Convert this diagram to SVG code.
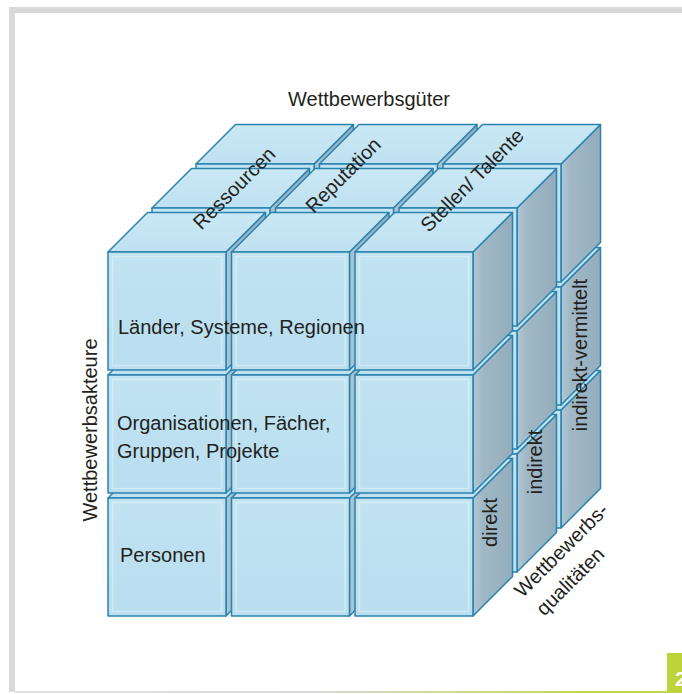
<svg xmlns="http://www.w3.org/2000/svg" width="682" height="694" viewBox="0 0 682 694">
  <style>
    .side{fill:url(#sideShade);stroke:#2a83ad;stroke-width:1.5;stroke-linejoin:round}
    .top{fill:url(#topShade);stroke:#2a83ad;stroke-width:1.5;stroke-linejoin:round}
    .front{fill:url(#frontShade);stroke:#2a83ad;stroke-width:1.5;stroke-linejoin:round}
    .glint{fill:none;stroke:#ffffff;stroke-opacity:.35;stroke-width:1.5}
    .lbl{font-family:"Liberation Sans",Arial,sans-serif;font-size:20px;fill:#231f20}
    .mid{text-anchor:middle}
    .frame{fill:#d9d9d9}
    .page{font-family:"Liberation Sans",Arial,sans-serif;font-size:21px;font-weight:bold;fill:#ffffff}
  </style>
  <defs>
    <linearGradient id="sideShade" x1="0" y1="0" x2="1" y2="0">
      <stop offset="0" stop-color="#b0c7d3"/>
      <stop offset="0.25" stop-color="#a0b8c6"/>
      <stop offset="1" stop-color="#94adbc"/>
    </linearGradient>
    <linearGradient id="frontShade" x1="0" y1="0" x2="0" y2="1">
      <stop offset="0" stop-color="#c1e3f2"/>
      <stop offset="1" stop-color="#b9deef"/>
    </linearGradient>
    <linearGradient id="topShade" x1="0" y1="1" x2="0" y2="0">
      <stop offset="0" stop-color="#bfe1f1"/>
      <stop offset="1" stop-color="#cae8f5"/>
    </linearGradient>
    <linearGradient id="baseLine" x1="15" y1="0" x2="682" y2="0" gradientUnits="userSpaceOnUse">
      <stop offset="0" stop-color="#e0e0e0"/>
      <stop offset="0.45" stop-color="#dadada"/>
      <stop offset="0.85" stop-color="#c3d84c"/>
    </linearGradient>
    <!-- one small cube: front face at origin, depth 39.5 receding up-right -->
    <g id="cube">
      <polygon class="side" points="118,0 157.5,-39.5 157.5,78.5 118,118"/>
      <polygon class="top" points="0,0 118,0 157.5,-39.5 39.5,-39.5"/>
      <rect class="front" x="0" y="0" width="118" height="118"/>
      <rect class="glint" x="4.5" y="4.5" width="109" height="109"/>
    </g>
  </defs>

  <rect width="682" height="694" fill="#ffffff"/>

  <!-- page frame -->
  <g id="frame">
    <rect class="frame" x="9" y="7" width="673" height="6"/>
    <rect class="frame" x="9" y="7" width="6" height="685"/>
    <rect x="15" y="691" width="667" height="2" fill="url(#baseLine)"/>
    <rect x="667" y="653" width="15" height="39" fill="#bcd33a"/>
    <text class="page" x="675" y="686">2</text>
  </g>

  <!-- 3x3x3 block of cubes, painted back layer first, bottom row first, left to right -->
  <g id="cubes">
    <g id="cube-back">
      <use href="#cube" id="c-2-2-0" x="196" y="410"/>
      <use href="#cube" id="c-2-2-1" x="319.5" y="410"/>
      <use href="#cube" id="c-2-2-2" x="443" y="410"/>
      <use href="#cube" id="c-2-1-0" x="196" y="287"/>
      <use href="#cube" id="c-2-1-1" x="319.5" y="287"/>
      <use href="#cube" id="c-2-1-2" x="443" y="287"/>
      <use href="#cube" id="c-2-0-0" x="196" y="164"/>
      <use href="#cube" id="c-2-0-1" x="319.5" y="164"/>
      <use href="#cube" id="c-2-0-2" x="443" y="164"/>
    </g>
    <g id="cube-middle">
      <use href="#cube" id="c-1-2-0" x="152" y="454"/>
      <use href="#cube" id="c-1-2-1" x="275.5" y="454"/>
      <use href="#cube" id="c-1-2-2" x="399" y="454"/>
      <use href="#cube" id="c-1-1-0" x="152" y="331"/>
      <use href="#cube" id="c-1-1-1" x="275.5" y="331"/>
      <use href="#cube" id="c-1-1-2" x="399" y="331"/>
      <use href="#cube" id="c-1-0-0" x="152" y="208"/>
      <use href="#cube" id="c-1-0-1" x="275.5" y="208"/>
      <use href="#cube" id="c-1-0-2" x="399" y="208"/>
    </g>
    <g id="cube-front">
      <use href="#cube" id="c-0-2-0" x="108" y="498"/>
      <use href="#cube" id="c-0-2-1" x="231.5" y="498"/>
      <use href="#cube" id="c-0-2-2" x="355" y="498"/>
      <use href="#cube" id="c-0-1-0" x="108" y="375"/>
      <use href="#cube" id="c-0-1-1" x="231.5" y="375"/>
      <use href="#cube" id="c-0-1-2" x="355" y="375"/>
      <use href="#cube" id="c-0-0-0" x="108" y="252"/>
      <use href="#cube" id="c-0-0-1" x="231.5" y="252"/>
      <use href="#cube" id="c-0-0-2" x="355" y="252"/>
    </g>
  </g>

  <!-- axis titles -->
  <g id="axis-goods">
    <text class="lbl mid" x="369" y="106">Wettbewerbsgüter</text>
    <text class="lbl mid" transform="translate(239,193) rotate(-45)">Ressourcen</text>
    <text class="lbl mid" transform="translate(348,180) rotate(-45)">Reputation</text>
    <text class="lbl mid" transform="translate(477,185) rotate(-45)">Stellen/ Talente</text>
  </g>
  <g id="axis-actors">
    <text class="lbl mid" transform="translate(97,430) rotate(-90)">Wettbewerbsakteure</text>
    <text class="lbl" x="118" y="334">Länder, Systeme, Regionen</text>
    <text class="lbl" x="117" y="430">Organisationen, Fächer,</text>
    <text class="lbl" x="117" y="458">Gruppen, Projekte</text>
    <text class="lbl" x="120" y="562">Personen</text>
  </g>
  <g id="axis-qualities">
    <text class="lbl mid" transform="translate(497,522.5) rotate(-90)">direkt</text>
    <text class="lbl mid" transform="translate(541.5,462) rotate(-90)">indirekt</text>
    <text class="lbl mid" transform="translate(586.5,355) rotate(-90)">indirekt-vermittelt</text>
    <text class="lbl mid" transform="translate(566,555) rotate(-45)">Wettbewerbs-</text>
    <text class="lbl mid" transform="translate(575,586) rotate(-45)">qualitäten</text>
  </g>
</svg>
